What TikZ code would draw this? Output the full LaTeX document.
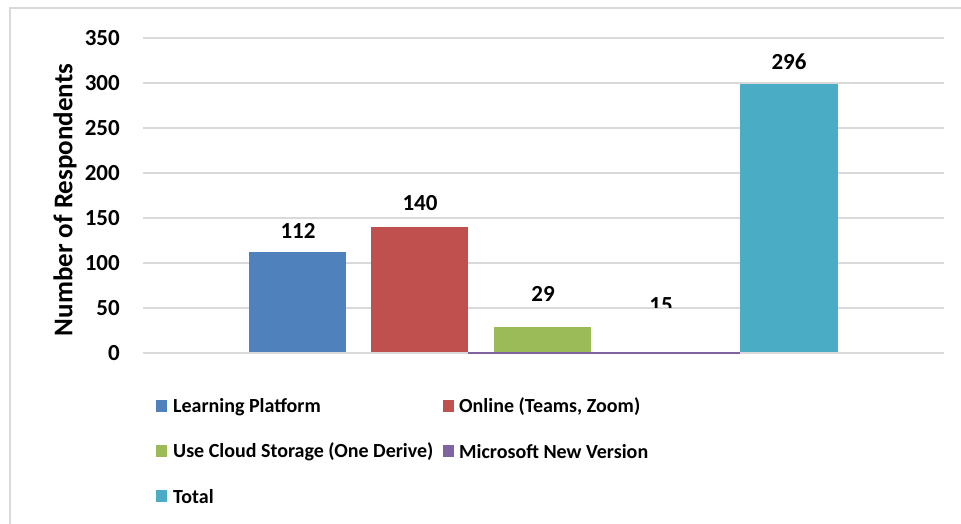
\documentclass[tikz,border=0pt]{standalone}
\usepackage{fontspec}
\setmainfont{Carlito}
\definecolor{cblue}{HTML}{4F81BD}
\definecolor{cred}{HTML}{C0504D}
\definecolor{cgreen}{HTML}{9BBB59}
\definecolor{cpurple}{HTML}{8064A2}
\definecolor{cteal}{HTML}{4BACC6}
\definecolor{cgrid}{HTML}{D9D9D9}
\begin{document}
\begin{tikzpicture}[x=1pt,y=-1pt,
  grid/.style={draw=cgrid,line width=1.5pt},
  tick/.style={font=\bfseries\fontsize{23}{27}\selectfont,anchor=east,inner sep=0pt},
  val/.style={font=\bfseries\fontsize{23}{27}\selectfont,inner sep=0pt},
  leg/.style={font=\bfseries\fontsize{20}{24}\selectfont,anchor=west,inner sep=0pt},
  key/.style={minimum width=11pt,minimum height=12pt,inner sep=0pt,anchor=west}]
\useasboundingbox (0,0) rectangle (961,524);
\clip (0,0) rectangle (961,524);
\fill[white] (0,0) rectangle (961,524);
\draw[cgrid,line width=2pt] (10,8) rectangle (975,540);
% gridlines
\foreach \v/\y in {50/308,100/263,150/218,200/173,250/128,300/83,350/38}{
  \draw[grid] (143,\y) -- (944,\y);
  \node[tick] at (120,\y) {\v};
}
\node[tick] at (120,353) {0};
% bars
\fill[cblue] (249,252) rectangle (346,353);
\fill[cred] (371,227) rectangle (468,353);
\fill[cgreen] (494,327) rectangle (591,353);
\fill[cteal] (740,84) rectangle (838,353);
\draw[grid] (143,353) -- (944,353);
\draw[cpurple,line width=2pt] (468,353) -- (740,353);
% labels
\node[val] at (298,231) {112};
\node[val] at (420,203) {140};
\node[val] at (543,294) {29};
\begin{scope}
\clip (600,280) rectangle (720,307.5);
\node[val] at (661,305) {15};
\end{scope}
\node[val] at (789,62) {296};
\node[font=\bfseries\fontsize{27}{32}\selectfont,rotate=90,inner sep=0pt] at (65,200) {Number of Respondents};
% legend
\node[key,fill=cblue] at (156,406) {};
\node[leg] at (173,407) {Learning Platform};
\node[key,fill=cred] at (443,406) {};
\node[leg] at (459,407) {Online (Teams, Zoom)};
\node[key,fill=cgreen] at (156,451) {};
\node[leg] at (173,452) {Use Cloud Storage (One Derive)};
\node[key,fill=cpurple] at (443,451) {};
\node[leg] at (459,452) {Microsoft New Version};
\node[key,fill=cteal] at (156,496) {};
\node[leg] at (173,497) {Total};
\end{tikzpicture}
\end{document}
